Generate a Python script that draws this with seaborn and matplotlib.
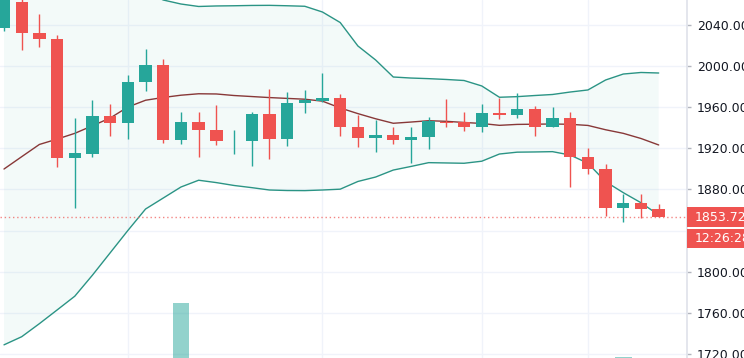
import matplotlib
matplotlib.use("Agg")
import matplotlib.pyplot as plt
import matplotlib.patches as mpatches
import numpy as np
import pandas as pd
import seaborn as sns

# OHLC per candle, left to right (first candle is cut by the left edge)
opens = [2037.4, 2062.7, 2032.5, 2026.7, 1910.6, 1914.8, 1951.5, 1944.4, 1984.6, 2000.8,
         1927.8, 1945.9, 1937.6, 1926.7, 1927.2, 1953.4, 1929.1, 1963.8, 1966.4, 1969.0,
         1941.1, 1929.8, 1933.0, 1927.8, 1930.8, 1945.9, 1945.9, 1940.8, 1954.1, 1952.5,
         1958.6, 1940.8, 1949.8, 1911.6, 1899.6, 1862.3, 1867.1, 1860.7]
highs = [2075.0, 2066.0, 2050.4, 2030.3, 1949.2, 1967.0, 1962.9, 1991.4, 2016.4, 2006.6,
         1955.1, 1955.7, 1961.9, 1937.9, 1955.1, 1977.5, 1974.5, 1976.8, 1993.0, 1972.9,
         1952.5, 1947.6, 1941.1, 1941.1, 1950.8, 1967.7, 1955.1, 1962.9, 1969.3, 1973.6,
         1961.2, 1960.5, 1955.1, 1920.1, 1904.8, 1875.3, 1875.3, 1865.9]
lows = [2034.5, 2015.7, 2018.9, 1901.6, 1862.3, 1911.9, 1932.0, 1928.8, 1975.8, 1924.9,
        1924.0, 1911.9, 1923.3, 1914.5, 1902.8, 1909.4, 1922.3, 1954.1, 1965.4, 1932.0,
        1921.6, 1916.8, 1924.0, 1906.1, 1919.7, 1941.1, 1936.7, 1935.9, 1948.3, 1949.8,
        1932.3, 1940.5, 1882.1, 1894.8, 1854.2, 1848.4, 1852.0, 1853.0]
closes = [2070.0, 2032.5, 2026.4, 1910.6, 1915.2, 1951.5, 1944.7, 1984.6, 2000.8, 1927.8,
          1945.9, 1937.6, 1927.2, 1927.0, 1953.4, 1929.1, 1963.8, 1967.0, 1969.3, 1940.8,
          1929.8, 1933.0, 1927.8, 1930.8, 1946.6, 1944.4, 1940.8, 1954.1, 1952.5, 1958.6,
          1940.8, 1949.8, 1911.6, 1899.6, 1862.3, 1867.1, 1860.7, 1853.72]
# volume overlay, only two bars reach into view
volumes = [0, 0, 0, 0, 0, 0, 0, 0, 0, 0,
           15.5, 0, 0, 0, 0, 0, 0, 0, 0, 0,
           0, 0, 0, 0, 0, 0, 0, 0, 0, 0,
           0, 0, 0, 0, 0, 0.4, 0, 0]

# Bollinger bands
bb_upper = [2070.9, 2087.0, 2098.0, 2095.3, 2093.1, 2087.4, 2080.7, 2080.4, 2072.5, 2064.3,
            2060.4, 2058.0, 2058.5, 2058.7, 2059.0, 2059.1, 2058.7, 2058.2, 2052.6, 2042.4,
            2019.6, 2006.0, 1989.4, 1988.4, 1987.8, 1987.0, 1986.0, 1980.7, 1969.7, 1970.3,
            1971.4, 1972.4, 1974.8, 1976.8, 1986.5, 1992.3, 1993.8, 1993.3]
bb_basis = [1899.9, 1911.9, 1923.8, 1929.0, 1934.6, 1942.0, 1949.5, 1960.2, 1966.8, 1969.5,
            1971.7, 1973.1, 1972.9, 1971.4, 1970.4, 1969.4, 1968.6, 1967.8, 1965.9, 1959.3,
            1953.8, 1948.8, 1944.4, 1945.6, 1946.9, 1946.3, 1945.2, 1944.2, 1942.4, 1943.3,
            1943.5, 1943.7, 1943.4, 1942.3, 1938.1, 1934.6, 1929.6, 1923.3]
bb_lower = [1728.9, 1736.8, 1749.5, 1762.8, 1776.2, 1796.7, 1818.4, 1840.1, 1861.0, 1871.7,
            1882.4, 1889.0, 1886.7, 1883.9, 1881.8, 1879.5, 1879.0, 1878.9, 1879.5, 1880.3,
            1887.8, 1892.1, 1898.9, 1902.4, 1906.1, 1905.8, 1905.5, 1907.5, 1914.5, 1916.3,
            1916.5, 1916.8, 1913.5, 1905.5, 1887.6, 1876.9, 1867.1, 1855.2]

price_ticks = [1720, 1760, 1800, 1840, 1880, 1920, 1960, 2000, 2040]
hidden_tick = 1840  # sits under the price tag
day_breaks = [7, 18, 27, 33]
last_price = 1853.72
countdown = "12:26:28"

UP = "#26a69a"
DOWN = "#ef5350"
BAND = "#2b9485"
BASIS = "#883838"

sns.set_theme(style="white")
plt.rcParams["font.family"] = ["DejaVu Sans"]

df = pd.DataFrame({"open": opens, "high": highs, "low": lows, "close": closes,
                   "volume": volumes, "upper": bb_upper, "basis": bb_basis,
                   "lower": bb_lower})
df["idx"] = np.arange(len(df))
colors = np.where(df["close"] >= df["open"], UP, DOWN)

W, H = 744, 358
fig = plt.figure(figsize=(W / 100, H / 100), dpi=100)
ax = fig.add_axes([0, 0, 687 / W, 1])

# volume overlay on its own scale
vax = ax.twinx()
vax.bar(df["idx"], df["volume"], width=0.94, color=UP, alpha=0.5, linewidth=0)
vax.set_ylim(0, 100)
vax.set_axis_off()

# bands
ax.fill_between(df["idx"], df["lower"], df["upper"], color=UP, alpha=0.05,
                linewidth=0, zorder=1)
for col, c in [("upper", BAND), ("lower", BAND), ("basis", BASIS)]:
    sns.lineplot(data=df, x="idx", y=col, ax=ax, color=c, linewidth=1.0, zorder=2)

# candles
ax.vlines(df["idx"], df["low"], df["high"], colors=colors, linewidth=1.0, zorder=3)
body_lo = np.minimum(df["open"], df["close"])
body_h = np.maximum(np.abs(df["close"] - df["open"]), 0.9)
ax.bar(df["idx"], body_h, bottom=body_lo, width=0.7, color=colors, linewidth=0,
       zorder=4)

# last price line
ax.axhline(last_price, color=DOWN, linewidth=1.0, linestyle=(0, (1, 2)), alpha=0.7,
           zorder=2)

ax.set_xlim(-0.226, 38.6)
ax.set_ylim(1716.1, 2064.3)
ax.set_xticks(day_breaks)
ax.set_xticklabels([])
ax.set_yticks(price_ticks)
ax.set_yticklabels(["" if t == hidden_tick else f"{t:.2f}" for t in price_ticks])
ax.set_xlabel("")
ax.set_ylabel("")
ax.yaxis.tick_right()
ax.tick_params(axis="x", length=0)
ax.tick_params(axis="y", length=3, width=1, color="#b2b5be", pad=4,
               labelsize=9, labelcolor="#131722")
ax.grid(True, color="#f0f3fa", linewidth=1)
ax.set_axisbelow(True)
for side in ["top", "left", "bottom"]:
    ax.spines[side].set_visible(False)
ax.spines["right"].set_color("#e0e3eb")

# price / countdown tags on the scale
for top, bottom, label in [(207, 227, f"{last_price:.2f}"), (229, 248, countdown)]:
    fig.patches.append(mpatches.Rectangle((687 / W, 1 - bottom / H), 57 / W,
                                          (bottom - top) / H, transform=fig.transFigure,
                                          facecolor=DOWN, edgecolor="none", zorder=5))
    fig.text(695 / W, 1 - (top + bottom) / 2 / H, label, color="white", fontsize=9,
             va="center", ha="left", zorder=6)

fig.savefig("out.png", dpi=100, facecolor="white")
